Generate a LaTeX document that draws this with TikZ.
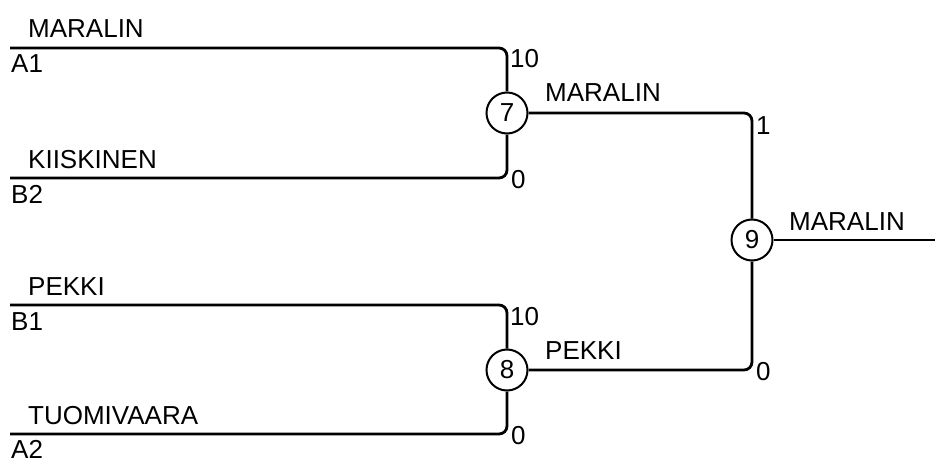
\documentclass[tikz,border=0pt]{standalone}
\usepackage{fontspec}
\setmainfont{Liberation Sans}
\begin{document}
\begin{tikzpicture}[x=1pt,y=-1pt,
  wire/.style={line width=2.8pt,rounded corners=8pt},
  match/.style={circle,draw,line width=2pt,minimum size=41pt,inner sep=0pt,font=\fontsize{26}{30}\selectfont,fill=white},
  lbl/.style={inner sep=0pt,font=\fontsize{26}{30}\selectfont},
]
\useasboundingbox (0,0) rectangle (935,460);
% matches
\node[match] (c7) at (507,113) {7};
\node[match] (c8) at (507,370) {8};
\node[match] (c9) at (752,240) {9};
% free ends
\coordinate (pA1) at (10,48);
\coordinate (pB2) at (10,178);
\coordinate (pB1) at (10,305);
\coordinate (pA2) at (10,434);
\coordinate (out) at (935,240);
% wires
\draw[wire] (pA1) -- (pA1 -| c7) -- (c7);
\draw[wire] (pB2) -- (pB2 -| c7) -- (c7);
\draw[wire] (pB1) -- (pB1 -| c8) -- (c8);
\draw[wire] (pA2) -- (pA2 -| c8) -- (c8);
\draw[wire] (c7) -- (c7 -| c9) -- (c9);
\draw[wire] (c8) -- (c8 -| c9) -- (c9);
\draw[wire] (c9) -- (out);
% names
\node[lbl,anchor=base west] (n1) at (28,38) {MARALIN};
\node[lbl,anchor=base west] (n2) at (28,168) {KIISKINEN};
\node[lbl,anchor=base west] (n3) at (28,295) {PEKKI};
\node[lbl,anchor=base west] (n4) at (28,424) {TUOMIVAARA};
\node[lbl,anchor=base west] (n5) at (545,102) {MARALIN};
\node[lbl,anchor=base west] (n6) at (545,359) {PEKKI};
\node[lbl,anchor=base west] (n7) at (789,230) {MARALIN};
% seeds
\node[lbl,anchor=base west] (s1) at (11,73) {A1};
\node[lbl,anchor=base west] (s2) at (11,203) {B2};
\node[lbl,anchor=base west] (s3) at (11,330) {B1};
\node[lbl,anchor=base west] (s4) at (11,458) {A2};
% scores
\node[lbl,anchor=base west] (r1) at (510,68) {10};
\node[lbl,anchor=base west] (r2) at (511,188) {0};
\node[lbl,anchor=base west] (r3) at (510,325) {10};
\node[lbl,anchor=base west] (r4) at (511,444) {0};
\node[lbl,anchor=base west] (r5) at (756,134) {1};
\node[lbl,anchor=base west] (r6) at (756,380) {0};
\end{tikzpicture}
\end{document}
